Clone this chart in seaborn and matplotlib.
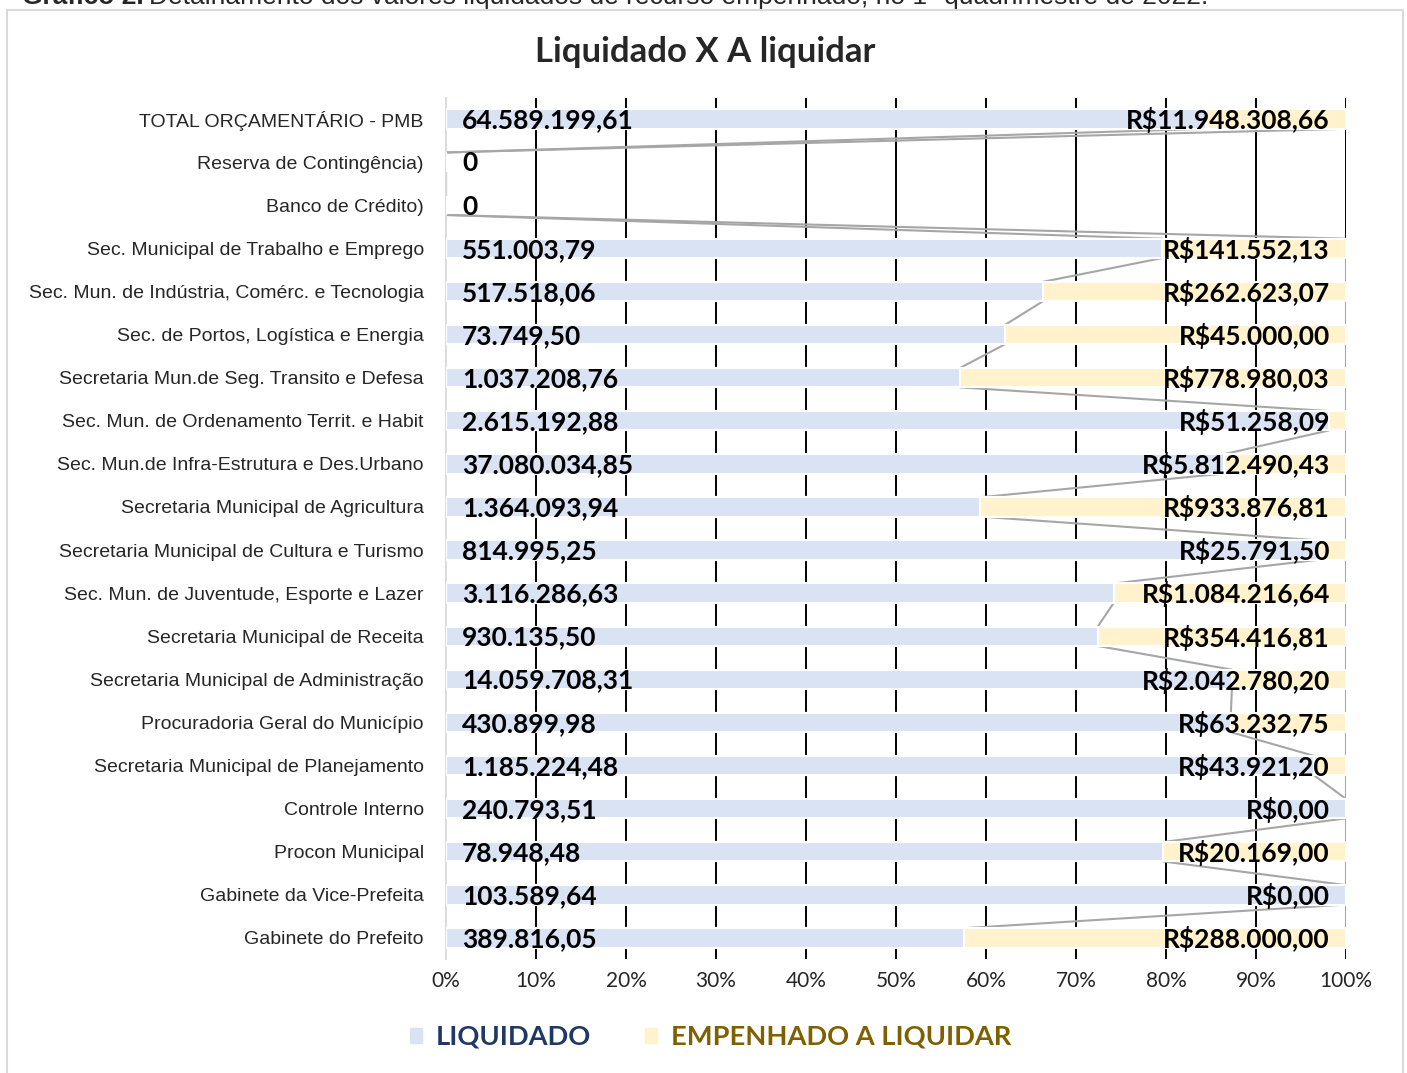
import matplotlib
matplotlib.use('Agg')
import matplotlib.pyplot as plt
from matplotlib.patches import Rectangle, Patch
import numpy as np
import pandas as pd
import seaborn as sns

categorias = [
    'TOTAL ORÇAMENTÁRIO - PMB',
    'Reserva de Contingência)',
    'Banco de Crédito)',
    'Sec. Municipal de Trabalho e Emprego',
    'Sec. Mun. de Indústria, Comérc. e Tecnologia',
    'Sec. de Portos, Logística e Energia',
    'Secretaria Mun.de Seg. Transito e Defesa',
    'Sec. Mun. de Ordenamento Territ. e Habit',
    'Sec. Mun.de Infra-Estrutura e Des.Urbano',
    'Secretaria Municipal de Agricultura',
    'Secretaria Municipal de Cultura e Turismo',
    'Sec. Mun. de Juventude, Esporte e Lazer',
    'Secretaria Municipal de Receita',
    'Secretaria Municipal de Administração',
    'Procuradoria Geral do Município',
    'Secretaria Municipal de Planejamento',
    'Controle Interno',
    'Procon Municipal',
    'Gabinete da Vice-Prefeita',
    'Gabinete do Prefeito',
]
liquidado = [64589199.61, 0, 0, 551003.79, 517518.06, 73749.50, 1037208.76,
             2615192.88, 37080034.85, 1364093.94, 814995.25, 3116286.63,
             930135.50, 14059708.31, 430899.98, 1185224.48, 240793.51,
             78948.48, 103589.64, 389816.05]
a_liquidar = [11948308.66, 0, 0, 141552.13, 262623.07, 45000.00, 778980.03,
              51258.09, 5812490.43, 933876.81, 25791.50, 1084216.64,
              354416.81, 2042780.20, 63232.75, 43921.20, 0.00,
              20169.00, 0.00, 288000.00]
ticks_x = np.arange(0, 1.01, 0.1)

AZUL = '#DAE3F3'
AMARELO = '#FFF2CC'
LINHA = '#A6A6A6'
ARIAL = ['Liberation Sans', 'DejaVu Sans']


def fmt_br(v):
    s = f'{v:,.2f}'
    return s.replace(',', '_').replace('.', ',').replace('_', '.')


liq = np.array(liquidado)
tot = liq + np.array(a_liquidar)
p_liq = np.where(tot > 0, liq / np.where(tot > 0, tot, 1), 0)
p_tot = np.where(tot > 0, 1.0, 0.0)
df = pd.DataFrame({'categoria': categorias, 'p_liq': p_liq, 'p_tot': p_tot})

sns.set_style('white')
plt.rcParams['font.family'] = ['Lato', 'DejaVu Sans']

fig = plt.figure(figsize=(14.07, 10.73), dpi=100)
ax = fig.add_axes([0.3170, 0.1058, 0.6397, 0.8033])

bh = 0.45
sns.barplot(data=df, x='p_tot', y='categoria', orient='h', color=AMARELO,
            saturation=1, width=bh, edgecolor='white', linewidth=1.5,
            errorbar=None, ax=ax, zorder=3)
sns.barplot(data=df, x='p_liq', y='categoria', orient='h', color=AZUL,
            saturation=1, width=bh, edgecolor='white', linewidth=1.5,
            errorbar=None, ax=ax, zorder=3)

n = len(categorias)
ax.set_xlim(0, 1)
ax.set_ylim(n - 0.5, -0.5)

# linhas de grade (pretas, atrás das barras)
ax.vlines(ticks_x[1:], -0.5, n - 0.5, color='black', lw=1.4, zorder=0)

# linhas de série
for i in range(n - 1):
    y0, y1 = i + bh / 2, i + 1 - bh / 2
    ax.plot([p_liq[i], p_liq[i + 1]], [y0, y1], color=LINHA, lw=1.5, zorder=2)
    ax.plot([p_tot[i], p_tot[i + 1]], [y0, y1], color=LINHA, lw=1.5, zorder=2)

# rótulos de dados
for i in range(n):
    txt = '0' if liquidado[i] == 0 else fmt_br(liquidado[i])
    ax.text(0.018, i + 0.03, txt, ha='left', va='center', fontsize=19,
            fontweight='bold', color='black', zorder=5)
    if tot[i] > 0:
        ax.text(0.982, i + 0.03, 'R$' + fmt_br(a_liquidar[i]), ha='right',
                va='center', fontsize=19, fontweight='bold', color='black',
                zorder=5)

ax.set_xticks(ticks_x)
ax.set_xticklabels([f'{int(round(t * 100))}%' for t in ticks_x], fontsize=15)
ax.set_xlabel('')
ax.set_ylabel('')
ax.set_yticks(range(n))
ax.set_yticklabels(categorias, fontsize=14, family=ARIAL)
ax.set_yticks(np.arange(-0.5, n, 1), minor=True)
ax.tick_params(axis='y', which='major', length=0, pad=16)
ax.tick_params(axis='y', which='minor', length=8, width=1.3, color='#D9D9D9')
ax.tick_params(axis='x', length=0, pad=8)
for s in ['top', 'right', 'bottom']:
    ax.spines[s].set_visible(False)
ax.spines['left'].set_color('#D9D9D9')
ax.spines['left'].set_linewidth(1.3)

fig.text(0.501, 0.9515, 'Liquidado X A liquidar', ha='center', va='center',
         fontsize=25, fontweight='bold')

t1 = fig.text(22 / 1407, 1 - 4 / 1073, 'Gráfico 2.', ha='left',
              va='baseline', fontsize=19, fontweight='bold', family=ARIAL)
ax.annotate('Detalhamento dos valores liquidados de recurso empenhado, '
            'no 1º quadrimestre de 2022.',
            xy=(1, 0), xycoords=t1, xytext=(4, 0), textcoords='offset points',
            ha='left', va='bottom', fontsize=19, family=ARIAL,
            annotation_clip=False)

fig.patches.append(Rectangle((7 / 1407, -0.02), 1396 / 1407, 1.02 - 10 / 1073,
                             transform=fig.transFigure, fill=False,
                             edgecolor='#D9D9D9', lw=1.5))

handles = [Patch(color=AZUL), Patch(color=AMARELO)]
fig.legend(handles, ['LIQUIDADO', 'EMPENHADO A LIQUIDAR'], loc='center',
           bbox_to_anchor=(0.505, 0.0336), ncol=2, frameon=False,
           prop={'weight': 'bold', 'size': 19.6}, labelcolor=['#1F3864', '#7F6000'],
           handlelength=0.45, handleheight=0.45, handletextpad=0.5,
           columnspacing=2.0)

fig.savefig('out.png', dpi=100)
